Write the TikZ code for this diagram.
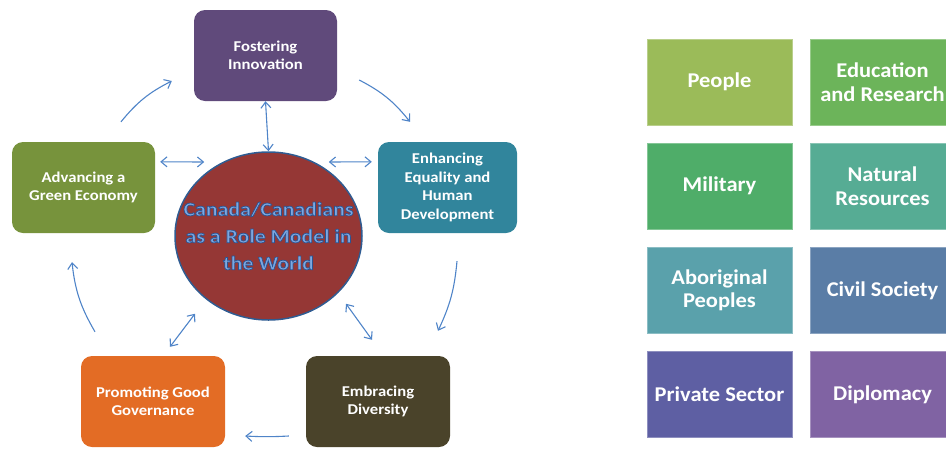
\documentclass[tikz,border=0pt]{standalone}
\usepackage{fontspec}
\setmainfont{Carlito}
\newfontfamily\boxfont{Carlito}[FakeStretch=1.11]
\newfontfamily\gridfont{Carlito}[FakeStretch=1.07]
\newfontfamily\circfont{Carlito}[FakeStretch=1.12]
\usetikzlibrary{arrows.meta,shapes.geometric,calc}
\definecolor{arrowc}{HTML}{4F84C8}
\definecolor{cFost}{HTML}{604A7B}
\definecolor{cAdv}{HTML}{77933C}
\definecolor{cEnh}{HTML}{31859C}
\definecolor{cProm}{HTML}{E36C25}
\definecolor{cEmb}{HTML}{4A432A}
\definecolor{cCirc}{HTML}{953735}
\definecolor{cCircB}{HTML}{2F5C92}
\definecolor{cCircT}{HTML}{7DA8E0}
\definecolor{gPeople}{HTML}{9BBB59}
\definecolor{gEdu}{HTML}{6CB45A}
\definecolor{gMil}{HTML}{4FAD69}
\definecolor{gNat}{HTML}{56AC94}
\definecolor{gAbo}{HTML}{5AA1AB}
\definecolor{gCiv}{HTML}{5A7DA6}
\definecolor{gPriv}{HTML}{5E5FA3}
\definecolor{gDip}{HTML}{8063A3}
\newcommand{\outlinedtext}[1]{\special{pdf:literal direct 2 Tr 0.7 w 0.16 0.33 0.58 RG}#1\special{pdf:literal direct 0 Tr}}
\tikzset{
  goalbox/.style={rectangle, rounded corners=11pt, minimum width=143pt, minimum height=91pt,
    text=white, align=center, font=\boxfont\fontsize{15}{18.5}\selectfont\bfseries, inner sep=2pt},
  gridbox/.style={rectangle, minimum width=145pt, minimum height=86pt, text=white,
    align=center, font=\gridfont\fontsize{21}{23.5}\selectfont\bfseries, inner sep=1pt, line width=1pt},
  dbl/.style={{Straight Barb[length=6pt,width=10pt]}-{Straight Barb[length=6pt,width=10pt]}, draw=arrowc, line width=1.1pt},
  cyc/.style={-{Straight Barb[length=6pt,width=10pt]}, draw=arrowc, line width=1.1pt}
}
\begin{document}
\begin{tikzpicture}[x=1pt,y=-1pt]
\useasboundingbox (0,0) rectangle (946,448);
\begin{scope}
\clip (0,0) rectangle (946,448);
% left diagram
\node[goalbox, fill=cFost] (fost) at (265.5,55.5) {Fostering\\Innovation};
\node[goalbox, fill=cAdv] (adv) at (83.5,187.5) {Advancing a\\Green Economy};
\node[goalbox, fill=cEnh, minimum width=139pt] (enh) at (447.5,187.5) {Enhancing\\Equality and\\Human\\Development};
\node[goalbox, fill=cProm, minimum width=144pt] (prom) at (153,401.5) {Promoting Good\\Governance};
\node[goalbox, fill=cEmb, minimum width=144pt] (emb) at (378,401.5) {Embracing\\Diversity};
\node[ellipse, fill=cCirc, draw=cCircB, line width=1.5pt, minimum width=187pt, minimum height=168pt,
  inner sep=0pt,
  label={[text=cCircT, align=center, font=\circfont\fontsize{19.5}{27}\selectfont\bfseries, inner sep=0pt]center:\outlinedtext{Canada/Canadians}\\\outlinedtext{as a Role Model in}\\\outlinedtext{the World}}]
  (circ) at (268.5,236) {};
% double arrows
\draw[dbl] (fost.south) -- (circ.north);
\draw[dbl] ([shift={(5,20)}]adv.north east) -- ([shift={(30,-74)}]circ.west);
\draw[dbl] ([shift={(-34,-74)}]circ.east) -- ([shift={(-6,20)}]enh.north west);
\draw[dbl] ([shift={(17,-9)}]prom.north) -- ([shift={(-73.5,-7)}]circ.south);
\draw[dbl] ([shift={(77.5,-17)}]circ.south) -- ([shift={(-6,-16)}]emb.north);
% cycle arrows
\draw[cyc] ([shift={(37.5,-20)}]adv.north) to[bend left=12] ([shift={(-22,25.5)}]fost.west);
\draw[cyc] ([shift={(22,24.5)}]fost.east) to[bend left=12] ([shift={(-37.5,-20)}]enh.north);
\draw[cyc] ([shift={(9.5,28)}]enh.south) to[bend left=10] ([shift={(60,-25)}]emb.north);
\draw[cyc] ([shift={(-17,34.5)}]emb.west) to[bend left=3] ([shift={(20,34.5)}]prom.east);
\draw[cyc] ([shift={(-58,-24)}]prom.north) to[bend left=12] ([shift={(-11.5,29)}]adv.south);
% right grid
\node[gridbox, fill=gPeople, draw=gPeople!70!white] (people) at (719.5,82) {People};
\node[gridbox, fill=gEdu, draw=gEdu!70!white] (edu) at (882.5,82) {Education\\and Research};
\node[gridbox, fill=gMil, draw=gMil!70!white] (mil) at (719.5,186) {Military};
\node[gridbox, fill=gNat, draw=gNat!70!white] (nat) at (882.5,186) {Natural\\Resources};
\node[gridbox, fill=gAbo, draw=gAbo!70!white] (abo) at (719.5,290.5) {Aboriginal\\Peoples};
\node[gridbox, fill=gCiv, draw=gCiv!70!white] (civ) at (882.5,290.5) {Civil Society};
\node[gridbox, fill=gPriv, draw=gPriv!70!white] (priv) at (719.5,394.5) {Private Sector};
\node[gridbox, fill=gDip, draw=gDip!70!white] (dip) at (882.5,394.5) {Diplomacy};
\end{scope}
\end{tikzpicture}
\end{document}
